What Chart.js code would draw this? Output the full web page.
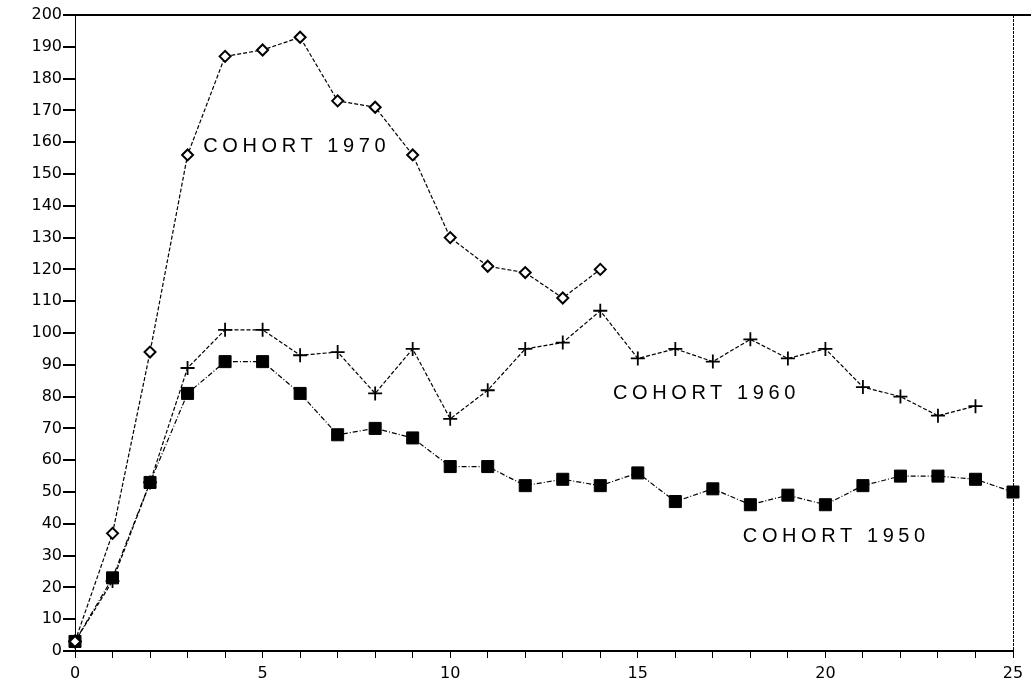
<!DOCTYPE html>
<html lang="en">
<head>
  <meta charset="UTF-8" />
  <title>Cohorts</title>
  <style>
    body {
      margin: 0;
      background: #ffffff;
    }
    canvas {
      display: block;
    }
  </style>
</head>
<body>
  <canvas id="cohortChart" width="1031" height="693"></canvas>

  <script src="https://cdn.jsdelivr.net/npm/chart.js"></script>
  <script>
    // values
    const ages = [0, 1, 2, 3, 4, 5, 6, 7, 8, 9, 10, 11, 12, 13, 14, 15, 16, 17, 18, 19, 20, 21, 22, 23, 24, 25];
    const cohort1970 = [3, 37, 94, 156, 187, 189, 193, 173, 171, 156, 130, 121, 119, 111, 120];
    const cohort1960 = [3, 22, 53, 89, 101, 101, 93, 94, 81, 95, 73, 82, 95, 97, 107, 92, 95, 91, 98, 92, 95, 83, 80, 74, 77];
    const cohort1950 = [3, 23, 53, 81, 91, 91, 81, 68, 70, 67, 58, 58, 52, 54, 52, 56, 47, 51, 46, 49, 46, 52, 55, 55, 54, 50];
    const yTicks = [0, 10, 20, 30, 40, 50, 60, 70, 80, 90, 100, 110, 120, 130, 140, 150, 160, 170, 180, 190, 200];
    const xLabelEvery = 5;

    // text labels next to the curves, anchored in data units
    const notes = [
      { text: 'COHORT 1970', x: 3.42, y: 158.5 },
      { text: 'COHORT 1960', x: 14.34, y: 81 },
      { text: 'COHORT 1950', x: 17.8, y: 36 }
    ];

    const toPoints = vals => vals.map((v, i) => ({ x: ages[i], y: v }));

    const frame = {
      id: 'frame',
      afterDatasetsDraw(chart) {
        const { ctx, chartArea: a, scales } = chart;
        ctx.save();
        ctx.strokeStyle = '#000';
        // heavy top rule
        ctx.lineWidth = 2;
        ctx.beginPath();
        ctx.moveTo(63, a.top);
        ctx.lineTo(chart.width, a.top);
        ctx.stroke();
        // bottom rule sticks out past the y axis a little
        ctx.beginPath();
        ctx.moveTo(63, a.bottom);
        ctx.lineTo(a.left, a.bottom);
        ctx.stroke();
        // thin dashed right edge
        ctx.lineWidth = 1;
        ctx.setLineDash([3, 1]);
        ctx.beginPath();
        ctx.moveTo(a.right + 0.5, a.top);
        ctx.lineTo(a.right + 0.5, a.bottom);
        ctx.stroke();
        ctx.setLineDash([]);

        ctx.fillStyle = '#000';
        ctx.font = '20px "Liberation Sans"';
        ctx.letterSpacing = '4.6px';
        ctx.textBaseline = 'middle';
        ctx.textAlign = 'left';
        notes.forEach(n => {
          ctx.fillText(n.text, scales.x.getPixelForValue(n.x), scales.y.getPixelForValue(n.y));
        });
        ctx.restore();
      }
    };

    const lineDefaults = {
      borderColor: '#000',
      borderWidth: 1.2,
      borderDash: [4, 2],
      tension: 0,
      clip: false,
      pointBorderColor: '#000'
    };

    const tickFont = { family: '"DejaVu Sans"', size: 16 };

    new Chart(document.getElementById('cohortChart').getContext('2d'), {
      type: 'line',
      data: {
        datasets: [
          Object.assign({}, lineDefaults, {
            label: 'COHORT 1970',
            data: toPoints(cohort1970),
            pointStyle: 'rectRot',
            pointRadius: 5.5,
            pointBorderWidth: 2,
            pointBackgroundColor: '#fff'
          }),
          Object.assign({}, lineDefaults, {
            label: 'COHORT 1960',
            data: toPoints(cohort1960),
            pointStyle: 'cross',
            pointRadius: 7,
            pointBorderWidth: 1.8
          }),
          Object.assign({}, lineDefaults, {
            label: 'COHORT 1950',
            data: toPoints(cohort1950),
            pointStyle: 'rect',
            pointRadius: 8.5,
            pointBorderWidth: 1,
            pointBackgroundColor: '#000',
            borderDash: [5, 2, 1, 2]
          })
        ]
      },
      options: {
        responsive: false,
        animation: false,
        layout: { padding: { top: 15, right: 18, left: 0, bottom: 0 } },
        plugins: {
          legend: { display: false },
          tooltip: { enabled: false }
        },
        scales: {
          x: {
            type: 'linear',
            min: ages[0],
            max: ages[ages.length - 1],
            afterFit: s => { s.height = 42; },
            ticks: {
              stepSize: 1,
              autoSkip: false,
              maxRotation: 0,
              padding: 6,
              color: '#000',
              font: tickFont,
              callback: v => (v % xLabelEvery === 0 ? String(v) : '')
            },
            grid: {
              drawOnChartArea: false,
              drawTicks: true,
              tickLength: 7,
              color: '#000',
              lineWidth: 1
            },
            border: { display: true, color: '#000', width: 2 }
          },
          y: {
            min: yTicks[0],
            max: yTicks[yTicks.length - 1],
            afterFit: s => { s.width = 75; },
            afterBuildTicks: s => { s.ticks = yTicks.map(v => ({ value: v })); },
            ticks: {
              autoSkip: false,
              padding: 1,
              color: '#000',
              font: tickFont
            },
            grid: {
              drawOnChartArea: false,
              drawTicks: true,
              tickLength: 12,
              color: '#000',
              lineWidth: 2
            },
            border: { display: true, color: '#000', width: 1, dash: [3, 1] }
          }
        }
      },
      plugins: [frame]
    });
  </script>
</body>
</html>
